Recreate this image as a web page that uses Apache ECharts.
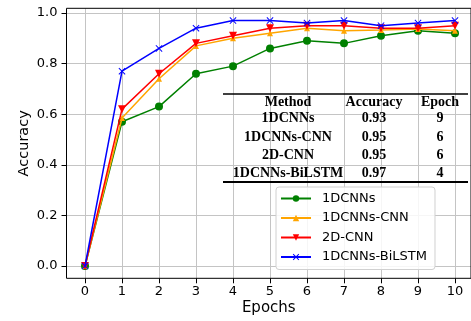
<!DOCTYPE html>
<html><head><meta charset="utf-8">
<script src="https://cdn.jsdelivr.net/npm/echarts@6/dist/echarts.min.js"></script>
<style>html,body{margin:0;padding:0;background:#fff}#c{width:471px;height:321px}</style>
</head><body><div id="c"></div>
<script>
const epochs=[0,1,2,3,4,5,6,7,8,9,10];
const seriesNames=['1DCNNs','1DCNNs-CNN','2D-CNN','1DCNNs-BiLSTM'];
const acc1DCNNs=[0,0.57,0.63,0.76,0.79,0.86,0.89,0.88,0.91,0.93,0.92];
const acc1DCNNsCNN=[0,0.585,0.74,0.87,0.90,0.92,0.94,0.93,0.933,0.937,0.93];
const acc2DCNN=[0,0.62,0.76,0.88,0.91,0.94,0.95,0.95,0.94,0.94,0.95];
const accBiLSTM=[0,0.77,0.86,0.94,0.97,0.97,0.96,0.97,0.95,0.96,0.97];
const yTicks=[0,0.2,0.4,0.6,0.8,1.0];
const xTicks=[0,1,2,3,4,5,6,7,8,9,10];
const tableHeader=['Method','Accuracy','Epoch'];
const tableMethods=['1DCNNs','1DCNNs-CNN','2D-CNN','1DCNNs-BiLSTM'];
const tableAccuracy=['0.93','0.95','0.95','0.97'];
const tableEpoch=['9','6','6','4'];

const FONT='"DejaVu Sans", sans-serif';
const chart=echarts.init(document.getElementById('c'),null,{renderer:'canvas'});
const colors=['#008000','#FFA500','#FF0000','#0000FF'];
const symbols=['circle','triangle','path://M0,0L10,0L5,9Z','path://M0,1L1,0L5,4L9,0L10,1L6,5L10,9L9,10L5,6L1,10L0,9L4,5Z'];
const symbolSizes=[8,6,8,7];
const datasets=[acc1DCNNs,acc1DCNNsCNN,acc2DCNN,accBiLSTM];

const gridCol='#c4c4c4';
const hidden=(gi,min,max)=>({type:'value',gridIndex:gi,min:min,max:max,show:false});

// table graphics
const tableX=[288,374,440];
const tableRowsY=[118.5,137,155.5,173.5];
const tfont='bold 14px "Liberation Serif", "Times New Roman", serif';
const graphics=[];
graphics.push({type:'line',shape:{x1:223,y1:94,x2:468,y2:94},style:{stroke:'#000',lineWidth:1.5},z:10});
graphics.push({type:'line',shape:{x1:223,y1:182,x2:468,y2:182},style:{stroke:'#000',lineWidth:2},z:10});
tableHeader.forEach((h,i)=>graphics.push({type:'text',x:tableX[i],y:102,z:10,style:{text:h,font:tfont,fill:'#000',align:'center',verticalAlign:'middle'}}));
tableMethods.forEach((m,r)=>{
  [m,tableAccuracy[r],tableEpoch[r]].forEach((t,i)=>graphics.push({type:'text',x:tableX[i],y:tableRowsY[r],z:10,style:{text:t,font:tfont,fill:'#000',align:'center',verticalAlign:'middle'}}));
});

const option={
  animation:false,
  backgroundColor:'#fff',
  grid:[
    {left:66.5,top:8.3,width:407,height:270,show:true,borderColor:'#000',borderWidth:1,backgroundColor:'transparent',z:5},
    {left:85,top:8.3,width:370,height:270},
    {left:66.5,top:13,width:407,height:253},
    {left:85,top:13,width:370,height:253}
  ],
  xAxis:[
    {type:'value',gridIndex:0,min:0,max:1,axisLine:{show:false},axisTick:{show:false},axisLabel:{show:false},splitLine:{show:false},
     name:'Epochs',nameLocation:'middle',nameGap:22,nameTextStyle:{fontSize:15,fontFamily:FONT,color:'#000'}},
    {type:'value',gridIndex:1,min:0,max:10,interval:1,axisLine:{show:false},
     axisTick:{show:true,length:5,lineStyle:{color:'#000',width:1}},
     axisLabel:{fontSize:13,fontFamily:FONT,color:'#000',margin:7},
     splitLine:{show:true,lineStyle:{color:gridCol,width:1}}},
    hidden(2,0,1),
    hidden(3,0,10)
  ],
  yAxis:[
    {type:'value',gridIndex:0,min:0,max:1,axisLine:{show:false},axisTick:{show:false},axisLabel:{show:false},splitLine:{show:false},
     name:'Accuracy',nameLocation:'middle',nameGap:35,nameTextStyle:{fontSize:14.5,fontFamily:FONT,color:'#000'}},
    hidden(1,0,1),
    {type:'value',gridIndex:2,min:0,max:1,interval:0.2,axisLine:{show:false},
     axisTick:{show:true,length:5,lineStyle:{color:'#000',width:1}},
     axisLabel:{fontSize:13,fontFamily:FONT,color:'#000',margin:9,formatter:v=>v.toFixed(1)},
     splitLine:{show:true,lineStyle:{color:gridCol,width:1}}},
    hidden(3,0,1)
  ],
  legend:{
    data:seriesNames,orient:'vertical',left:276,top:187,
    itemWidth:30,itemHeight:8,itemGap:6.5,
    padding:[5,8,6,4],
    backgroundColor:'rgba(255,255,255,0.85)',borderColor:'#d0d0d0',borderWidth:1,borderRadius:3,
    textStyle:{fontSize:13,fontFamily:FONT,color:'#000',padding:[0,0,0,6]},
    z:20
  },
  graphic:graphics,
  series:seriesNames.map((n,k)=>({
    name:n,type:'line',xAxisIndex:3,yAxisIndex:3,clip:false,
    data:epochs.map((e,i)=>[e,datasets[k][i]]),
    symbol:symbols[k],symbolSize:symbolSizes[k],showAllSymbol:true,
    lineStyle:{color:colors[k],width:1.5},
    itemStyle:{color:colors[k]},
    z:3+k
  }))
};
chart.setOption(option);
</script></body></html>
